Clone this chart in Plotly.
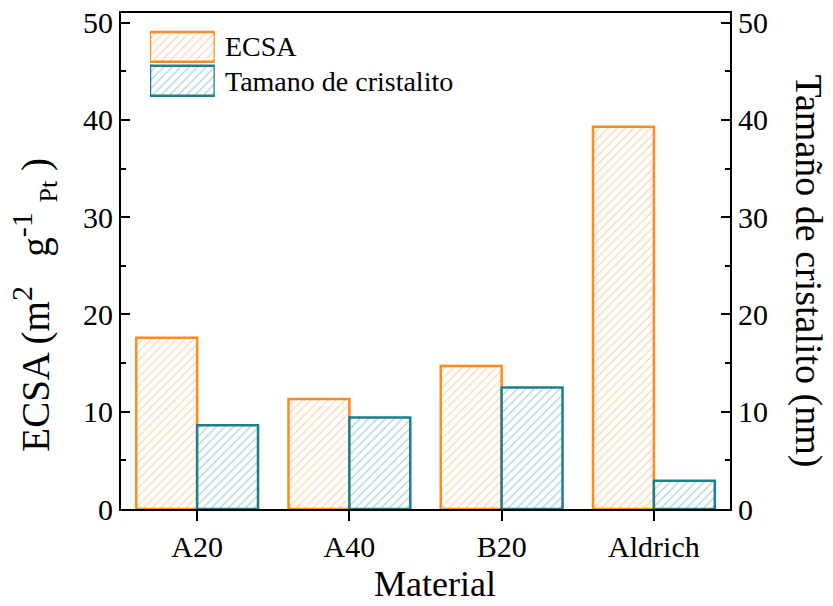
import plotly.graph_objects as go

categories = ["A20", "A40", "B20", "Aldrich"]
ecsa = [17.6, 11.3, 14.7, 39.3]
tamano = [8.6, 9.4, 12.5, 2.9]
legend_names = ["ECSA", "Tamano de cristalito"]

orange = "#FF8C1A"
teal = "#1B7F8C"
orange_hatch = "#FFB060"
teal_hatch = "#5FA8B2"
font_family = "Liberation Serif, Times New Roman, serif"


def marker(line_color, hatch_color):
    return dict(color="white", line=dict(color=line_color, width=2.5),
                pattern=dict(shape="/", fgcolor=hatch_color, bgcolor="white",
                             size=6, solidity=0.22))


fig = go.Figure()
fig.add_trace(go.Bar(x=categories, y=ecsa, name=legend_names[0], offsetgroup=0,
                     marker=marker(orange, orange_hatch), yaxis="y", showlegend=False))
fig.add_trace(go.Bar(x=categories, y=tamano, name=legend_names[1], offsetgroup=1,
                     marker=marker(teal, teal_hatch), yaxis="y2", showlegend=False))

# Legend swatches (drawn as bars on a small hidden axis inside the plot)
for name, lc, hc in [(legend_names[0], orange, orange_hatch), (legend_names[1], teal, teal_hatch)]:
    fig.add_trace(go.Bar(y=[name], x=[1], orientation="h", xaxis="x3", yaxis="y3",
                         width=0.88, marker=marker(lc, hc), showlegend=False,
                         hoverinfo="skip"))

tick_common = dict(ticklen=9, tickwidth=2, tickcolor="black")
fig.update_layout(
    width=833, height=606,
    margin=dict(l=121, r=103, t=13, b=97),
    paper_bgcolor="white", plot_bgcolor="white",
    font=dict(family=font_family, color="black", size=30),
    barmode="group", bargap=0.2, bargroupgap=0,
    showlegend=False,
    xaxis=dict(
        range=[-0.5, 3.5], showline=True, linecolor="black", linewidth=2,
        mirror=True, ticks="outside", ticklen=10, tickwidth=2, tickcolor="black",
        minor=dict(ticks="outside", ticklen=5, tickwidth=2, tickcolor="black"),
        tickfont=dict(size=30), showgrid=False, zeroline=False, automargin=False),
    yaxis=dict(
        range=[0, 51], dtick=10, showline=True, linecolor="black", linewidth=2,
        ticks="inside", **tick_common,
        minor=dict(ticks="inside", ticklen=5, tickwidth=2, tickcolor="black", dtick=5),
        tickfont=dict(size=30), showgrid=False, zeroline=False, automargin=False),
    yaxis2=dict(
        range=[0, 51], dtick=10, overlaying="y", side="right", showline=True,
        linecolor="black", linewidth=2, ticks="inside", **tick_common,
        minor=dict(ticks="inside", ticklen=5, tickwidth=2, tickcolor="black", dtick=5),
        tickfont=dict(size=30), showgrid=False, zeroline=False, automargin=False),
    xaxis3=dict(domain=[0.0476, 0.154], anchor="y3", range=[0, 1], visible=False,
                fixedrange=True),
    yaxis3=dict(domain=[0.829, 0.966], anchor="x3", visible=False, fixedrange=True,
                range=[-0.5, 1.5], categoryorder="array",
                categoryarray=legend_names[::-1]),
)

legend_y = [0.933, 0.861]
for name, yy in zip(legend_names, legend_y):
    fig.add_annotation(text=name, xref="paper", yref="paper", x=0.168, y=yy,
                       xanchor="left", yanchor="middle", showarrow=False,
                       font=dict(size=28, family=font_family))

# Axis titles
sup_style = "style='font-size:30px'"
fig.add_annotation(
    text=("ECSA (m<sup><span %s>2</span></sup>&nbsp;&nbsp; g<sup><span %s>-1</span></sup>"
          "&nbsp;<sub><span style='font-size:26px'>Pt</span></sub>&nbsp;)") % (sup_style, sup_style),
    textangle=-90,
    xref="paper", yref="paper", x=-0.142, y=0.411, xanchor="center", yanchor="middle",
    showarrow=False, font=dict(size=39, family=font_family))
fig.add_annotation(
    text="Tamaño de cristalito (nm)", textangle=90,
    xref="paper", yref="paper", x=1.1675, y=0.48, xanchor="right", yanchor="middle",
    showarrow=False, font=dict(size=38, family=font_family))
fig.add_annotation(
    text="Material", xref="paper", yref="paper", x=0.516, y=-0.1955,
    xanchor="center", yanchor="bottom", showarrow=False,
    font=dict(size=36, family=font_family))

fig.write_html("out.html")
